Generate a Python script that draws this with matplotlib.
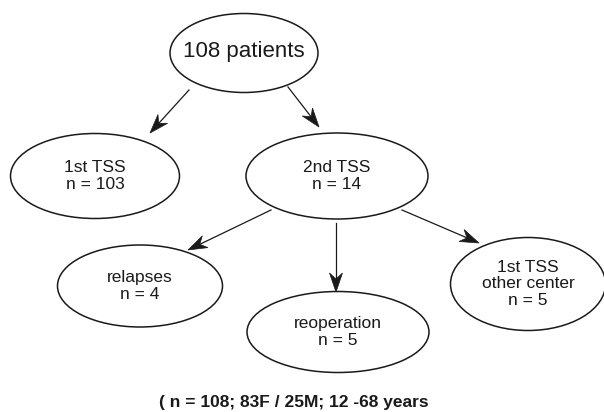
import numpy as np
import matplotlib.pyplot as plt
from matplotlib.patches import Ellipse, Polygon

plt.rcParams['font.family'] = ['Liberation Sans', 'DejaVu Sans']

# node data
node_names = ['root', 'first', 'second', 'relapse', 'reop', 'other']
node_labels = ['108 patients', '1st TSS', '2nd TSS', 'relapses', 'reoperation', '1st TSS\nother center']
node_counts = [None, 103, 14, 4, 5, 5]
edges = [('root', 'first'), ('root', 'second'),
         ('second', 'relapse'), ('second', 'reop'), ('second', 'other')]
caption = '( n = 108; 83F / 25M; 12 -68 years'

# layout in pixel space (x, y, width, height)
layout = {
    'root':    (244, 53, 148, 79),
    'first':   (95, 176, 169, 85),
    'second':  (337, 176, 182, 86),
    'relapse': (140, 286, 165, 82),
    'reop':    (338, 332, 182, 81),
    'other':   (528, 284, 155, 93),
}
arrow_pts = {
    ('root', 'first'):     ((189, 90), (150, 133)),
    ('root', 'second'):    ((288, 87), (319, 127)),
    ('second', 'relapse'): ((271, 210), (188, 250)),
    ('second', 'reop'):    ((336, 223), (336, 292)),
    ('second', 'other'):   ((402, 210), (479, 243)),
}
INK = '#1a1a1a'


def stealth(ax, p0, p1, length=19, half=6.5, notch=6):
    p0, p1 = np.array(p0, float), np.array(p1, float)
    d = (p1 - p0) / np.linalg.norm(p1 - p0)
    n = np.array([-d[1], d[0]])
    back = p1 - d * length
    mid = p1 - d * (length - notch)
    pts = [p1, back + n * half, mid, back - n * half]
    ax.plot([p0[0], mid[0]], [p0[1], mid[1]], color=INK, lw=0.9)
    ax.add_patch(Polygon(pts, closed=True, facecolor=INK, edgecolor=INK, lw=0.5))


fig = plt.figure(figsize=(6.04, 4.12), dpi=100)
ax = fig.add_axes([0, 0, 1, 1])
ax.set_xlim(0, 604)
ax.set_ylim(412, 0)
ax.axis('off')

for name, label, n in zip(node_names, node_labels, node_counts):
    x, y, w, h = layout[name]
    ax.add_patch(Ellipse((x, y), w, h, facecolor='white', edgecolor=INK, lw=1.1))
    if n is None:
        ax.text(x, y - 2, label, ha='center', va='center', fontsize=16, color=INK)
    else:
        ax.text(x, y, f'{label}\nn = {n}', ha='center', va='center', fontsize=12.5,
                color=INK, linespacing=1.15)

for e in edges:
    stealth(ax, *arrow_pts[e])

ax.text(294, 403, caption, ha='center', va='center', fontsize=12.5,
        fontweight='bold', color=INK)

fig.savefig('out.png', dpi=100)
